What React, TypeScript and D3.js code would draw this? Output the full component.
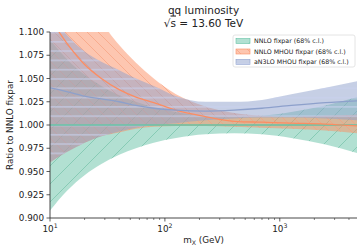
import React from "react";
import * as d3 from "d3";

// invariant mass grid (GeV)
const massGrid = [10, 14, 20, 28, 40, 56, 80, 125, 225, 400, 700, 1260, 2500, 4700];

// NNLO fixpar (68% c.l.)
const nnloLow = [0.908, 0.929, 0.946, 0.958, 0.968, 0.975, 0.981, 0.986, 0.99, 0.991, 0.99, 0.986, 0.979, 0.97];
const nnloHigh = [1.092, 1.071, 1.054, 1.042, 1.032, 1.025, 1.019, 1.014, 1.01, 1.009, 1.01, 1.014, 1.021, 1.03];
const nnloMid = [1, 1, 1, 1, 1, 1, 1, 1, 1, 1, 1, 1, 1, 1];

// NNLO MHOU fixpar (68% c.l.)
const mhouLow = [0.96, 0.971, 0.981, 0.988, 0.992, 0.996, 0.998, 0.999, 0.999, 0.998, 0.997, 0.996, 0.994, 0.991];
const mhouHigh = [1.27, 1.205, 1.15, 1.112, 1.086, 1.067, 1.05, 1.033, 1.02, 1.013, 1.01, 1.009, 1.01, 1.011];
const mhouMid = [1.115, 1.088, 1.065, 1.05, 1.038, 1.03, 1.024, 1.016, 1.009, 1.004, 1.003, 1.002, 1.001, 0.999];

// aN3LO MHOU fixpar (68% c.l.)
const n3loLow = [0.96, 0.971, 0.981, 0.988, 0.993, 0.997, 1.0, 1.002, 1.005, 1.007, 1.008, 1.008, 1.007, 1.005];
const n3loHigh = [1.12, 1.097, 1.079, 1.068, 1.059, 1.05, 1.042, 1.031, 1.025, 1.025, 1.027, 1.033, 1.04, 1.047];
const n3loMid = [1.04, 1.036, 1.031, 1.028, 1.025, 1.021, 1.018, 1.016, 1.015, 1.016, 1.018, 1.021, 1.024, 1.026];

const yTicks = [0.9, 0.925, 0.95, 0.975, 1.0, 1.025, 1.05, 1.075, 1.1];
const xMajor = [10, 100, 1000];
const xMinor = [20, 30, 40, 50, 60, 70, 80, 90, 200, 300, 400, 500, 600, 700, 800, 900, 2000, 3000, 4000];

const series = [
  { name: "NNLO fixpar (68% c.l.)", low: nnloLow, high: nnloHigh, mid: nnloMid, color: "#66c2a5", hatch: "hatchGreen" },
  { name: "NNLO MHOU fixpar (68% c.l.)", low: mhouLow, high: mhouHigh, mid: mhouMid, color: "#fc8d62", hatch: "hatchOrange" },
  { name: "aN3LO MHOU fixpar (68% c.l.)", low: n3loLow, high: n3loHigh, mid: n3loMid, color: "#8da0cb", hatch: "hatchPurple" },
];

const W = 362;
const H = 252;
const margin = { top: 32, right: 5, bottom: 34, left: 50 };
const font = "DejaVu Sans, sans-serif";

export default function App() {
  const x = d3.scaleLog().domain([10, 4700]).range([margin.left, W - margin.right]);
  const y = d3.scaleLinear().domain([0.9, 1.1]).range([H - margin.bottom, margin.top]);

  const area = (lo: number[], hi: number[]) =>
    d3.area<number>()
      .x((d) => x(d))
      .y0((_, i) => y(lo[i]))
      .y1((_, i) => y(hi[i]))
      .curve(d3.curveMonotoneX)(massGrid) || "";

  const line = (v: number[]) =>
    d3.line<number>()
      .x((d) => x(d))
      .y((_, i) => y(v[i]))
      .curve(d3.curveMonotoneX)(massGrid) || "";

  const x0 = margin.left;
  const x1 = W - margin.right;
  const y0 = H - margin.bottom;
  const y1 = margin.top;
  const axisColor = "#333";

  return (
    <svg width={W} height={H} style={{ position: "absolute", left: 0, top: 0, background: "#fff" }} fontFamily={font}>
      <defs>
        <clipPath id="plotClip">
          <rect x={x0} y={y1} width={x1 - x0} height={y0 - y1} />
        </clipPath>
        <pattern id="hatchGreen" patternUnits="userSpaceOnUse" width={18} height={18}>
          <path d="M-2,2 L2,-2 M0,18 L18,0 M16,20 L20,16" stroke="#52b091" strokeOpacity={0.75} strokeWidth={0.6} />
        </pattern>
        <pattern id="hatchOrange" patternUnits="userSpaceOnUse" width={11} height={11}>
          <path d="M-2,9 L2,13 M0,0 L11,11 M9,-2 L13,2" stroke="#f7a07f" strokeWidth={0.7} />
        </pattern>
        <pattern id="hatchPurple" patternUnits="userSpaceOnUse" width={9} height={9.3}>
          <path d="M0,4.6 L9,4.6" stroke="#c9d1ee" strokeWidth={1} />
        </pattern>
      </defs>

      <g clipPath="url(#plotClip)">
        {series.map((s) => (
          <g key={s.name}>
            <path d={area(s.low, s.high)} fill={s.color} fillOpacity={0.5} stroke="none" />
            <path d={area(s.low, s.high)} fill={`url(#${s.hatch})`} stroke="none" />
          </g>
        ))}
        {series.map((s) => (
          <path key={s.name + "-mid"} d={line(s.mid)} fill="none" stroke={s.color} strokeWidth={1.3} />
        ))}
      </g>

      {/* y axis */}
      <line x1={x0} x2={x0} y1={y1} y2={y0} stroke={axisColor} strokeWidth={0.9} />
      {yTicks.map((t) => (
        <g key={t}>
          <line x1={x0 - 3.5} x2={x0} y1={y(t)} y2={y(t)} stroke={axisColor} strokeWidth={0.8} />
          <text x={x0 - 6} y={y(t)} dy="0.35em" textAnchor="end" fontSize={8.8} fill="#222">
            {d3.format(".3f")(t)}
          </text>
        </g>
      ))}

      {/* x axis */}
      <line x1={x0} x2={x1} y1={y0} y2={y0} stroke={axisColor} strokeWidth={0.9} />
      {xMinor.map((t) => (
        <line key={t} x1={x(t)} x2={x(t)} y1={y0} y2={y0 + 2} stroke={axisColor} strokeWidth={0.6} />
      ))}
      {xMajor.map((t) => (
        <g key={t}>
          <line x1={x(t)} x2={x(t)} y1={y0} y2={y0 + 3.5} stroke={axisColor} strokeWidth={0.8} />
          <text x={x(t)} y={y0 + 14} textAnchor="middle" fontSize={8.8} fill="#222">
            10
            <tspan fontSize={6.2} dy={-4}>{Math.round(Math.log10(t))}</tspan>
          </text>
        </g>
      ))}

      {/* labels */}
      <text x={(x0 + x1) / 2} y={243} textAnchor="middle" fontSize={8.8} fill="#222">
        m<tspan fontSize={6.2} dy={2}>X</tspan>
        <tspan dy={-2}> (GeV)</tspan>
      </text>
      <text
        transform={`translate(13,${(y0 + y1) / 2}) rotate(-90)`}
        textAnchor="middle"
        fontSize={8.8}
        fill="#222"
      >
        Ratio to NNLO fixpar
      </text>

      {/* title */}
      <text x={(x0 + x1) / 2} y={14} textAnchor="middle" fontSize={10.5} fill="#222">
        qq luminosity
      </text>
      <text x={(x0 + x1) / 2} y={26.5} textAnchor="middle" fontSize={10.5} fill="#222">
        √<tspan style={{ textDecoration: "overline" }}>s</tspan> = 13.60 TeV
      </text>

      {/* legend */}
      <g transform="translate(233,35)">
        <rect x={0} y={0} width={122} height={32} rx={2} fill="#fff" fillOpacity={0.85} stroke="#ddd" strokeWidth={0.8} />
        {series.map((s, i) => (
          <g key={s.name} transform={`translate(3,${3.5 + i * 10.5})`}>
            <rect x={0} y={0} width={14} height={5} fill={s.color} fillOpacity={0.5} stroke={s.color} strokeWidth={0.6} />
            <rect x={0} y={0} width={14} height={5} fill={`url(#${s.hatch})`} />
            <text x={18} y={2.5} dy="0.35em" fontSize={6.3} fill="#222">
              {s.name}
            </text>
          </g>
        ))}
      </g>
    </svg>
  );
}
